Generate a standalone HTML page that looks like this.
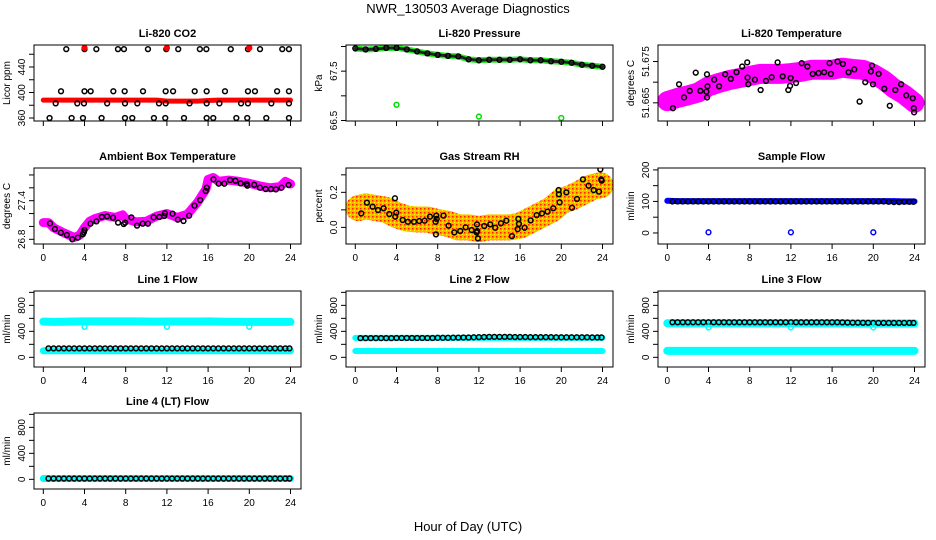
<!DOCTYPE html>
<html><head><meta charset="utf-8"><style>
body{margin:0;background:#fff;}
svg{display:block;font-family:"Liberation Sans",sans-serif;}
</style></head><body>
<svg id="chart" width="936" height="540" viewBox="0 0 936 540">
<defs>
<pattern id="rhpat" width="4" height="4" patternUnits="userSpaceOnUse"><rect width="4" height="4" fill="#ffb400"/><rect width="1.5" height="1.5" fill="#ff2000"/><rect x="2" y="2" width="1" height="1" fill="#ffff00"/></pattern>
</defs>
<text x="468" y="13" text-anchor="middle" font-size="13">NWR_130503  Average Diagnostics</text>
<text x="468" y="531" text-anchor="middle" font-size="13">Hour of Day (UTC)</text>
</svg>
<script>
const hoursHourly=[0,1,2,3,4,5,6,7,8,9,10,11,12,13,14,15,16,17,18,19,20,21,22,23,24];
const hoursHalf=[0.5,1,1.5,2,2.5,3,3.5,4,4.5,5,5.5,6,6.5,7,7.5,8,8.5,9,9.5,10,10.5,11,11.5,12,12.5,13,13.5,14,14.5,15,15.5,16,16.5,17,17.5,18,18.5,19,19.5,20,20.5,21,21.5,22,22.5,23,23.5,23.9];
const outlierHours=[4,12,20];
const xTicks=[0,4,8,12,16,20,24];

// CO2
const co2RedVals=[388,388,388,388,388,388,388,388,388,388,388,388,386.5,386.5,386.5,386.5,387.5,388,388,388,388,388,388,388,388];
const co2Hours=[2.23,4.0,5.15,7.25,7.83,10.16,11.94,13.1,15.2,15.83,18.2,19.87,21.04,23.2,23.85,1.72,4.0,4.6,6.8,7.9,9.68,11.88,12.6,14.7,15.86,17.64,19.87,20.55,22.7,23.85,1.2,3.3,3.95,6.2,7.93,9.13,11.23,11.88,14.2,15.86,17.1,19.2,19.87,22.14,23.85,0.61,2.75,3.85,5.66,7.93,8.64,10.74,11.84,13.66,15.86,16.5,18.74,19.8,21.65,23.85];
const co2Vals=[468,468,468,468,468,468,468,468,468,468,468,468,468,468,468,402,402,402,402,402,402,402,402,402,402,402,402,402,402,402,383,383,383,383,383,383,383,383,383,383,383,383,383,383,383,360,360,360,360,360,360,360,360,360,360,360,360,360,360,360];
const co2RedOutVals=[470,470,470];

// Pressure
const presGreen=[67.96,67.94,67.95,67.97,67.97,67.94,67.9,67.86,67.83,67.81,67.8,67.74,67.72,67.73,67.73,67.73,67.74,67.72,67.72,67.7,67.69,67.67,67.63,67.61,67.59];
const presOutVals=[66.82,66.58,66.55];

// Li-820 temperature
const ltBand=[51.6654,51.6662,51.6668,51.6675,51.669,51.6698,51.6705,51.671,51.6715,51.672,51.672,51.672,51.6722,51.6725,51.673,51.673,51.673,51.6735,51.6732,51.673,51.672,51.6705,51.6685,51.667,51.665];
const ltHours=[0.55,1.14,1.62,2.18,2.76,3.21,3.8,3.86,3.9,3.85,4.55,5.03,5.62,6.17,6.72,7.27,7.76,7.79,7.86,8.51,9.06,9.58,10.13,10.71,11.2,11.75,11.92,11.98,12.5,13.05,13.6,14.12,14.68,15.23,15.75,15.88,16.53,17.05,17.6,18.15,18.67,19.22,19.77,19.87,19.97,20.52,21.07,21.6,22.14,22.7,23.2,23.83,23.93,23.96];
const ltVals=[51.6637,51.6695,51.6663,51.6679,51.6723,51.6679,51.6677,51.6663,51.669,51.6719,51.6706,51.669,51.6719,51.6708,51.6724,51.6738,51.6748,51.6711,51.6695,51.6706,51.6681,51.6703,51.6712,51.6748,51.6714,51.6681,51.6691,51.671,51.6698,51.6746,51.6738,51.672,51.6722,51.6724,51.6746,51.672,51.675,51.6744,51.6724,51.6731,51.6653,51.67,51.6726,51.674,51.6695,51.672,51.6684,51.6643,51.6681,51.6695,51.6668,51.6661,51.6637,51.6627];

// Ambient
const ambBandHours=[0,0.5,1,2,3,3.5,4,4.5,5,6,7,7.7,8,9,10,11,12,13,14,15,15.8,16,16.5,17,18,19,20,21,22,23,23.5,24];
const ambBandVals=[27.06,27.06,26.98,26.9,26.83,26.86,26.98,27.08,27.12,27.17,27.14,27.18,27.12,27.07,27.08,27.16,27.2,27.14,27.19,27.38,27.58,27.73,27.76,27.7,27.72,27.7,27.67,27.63,27.6,27.62,27.7,27.66];
const ambHours=[0.65,1.13,1.71,2.29,2.81,3.35,3.84,3.94,3.99,4.58,5.16,5.68,6.19,6.77,7.26,7.81,7.95,8.55,9.1,9.65,10.16,10.71,11.26,11.74,11.81,12.55,13.06,13.61,14.16,14.68,15.23,15.77,15.87,16.52,17.03,17.58,18.13,18.65,19.16,19.74,19.81,20.48,21.03,21.58,22.1,22.58,23.13,23.81];
const ambVals=[27.048,26.96,26.903,26.867,26.8,26.826,26.878,26.909,26.945,27.043,27.079,27.147,27.157,27.136,27.059,27.038,27.059,27.141,27.012,27.043,27.043,27.141,27.147,27.162,27.204,27.198,27.105,27.085,27.167,27.323,27.41,27.55,27.602,27.731,27.664,27.664,27.721,27.71,27.669,27.659,27.633,27.648,27.602,27.581,27.581,27.576,27.602,27.643];

// RH
const rhBandHours=[0.3,1,2,3,4,5,6,7,8,9,10,11,12,13,14,15,16,17,18,19,20,21,22,23,23.8];
const rhBand=[0.11,0.12,0.11,0.1,0.07,0.05,0.045,0.045,0.03,0.02,0.0,0.0,-0.01,0.0,0.0,0.0,0.01,0.04,0.07,0.1,0.15,0.17,0.2,0.23,0.24];
const rhHours=[0.58,1.13,1.68,2.2,2.75,3.3,3.85,3.88,3.98,4.6,5.11,5.7,6.21,6.73,7.25,7.8,7.83,7.86,7.9,8.57,9.06,9.61,10.19,10.71,11.3,11.78,11.81,11.84,11.9,12.52,13.1,13.59,14.14,14.66,15.21,15.83,15.89,15.76,16.44,17.02,17.61,18.12,18.67,19.22,19.74,19.77,19.84,20.49,21.04,21.52,22.1,22.65,23.14,23.66,23.79,23.88,23.92];
const rhVals=[0.08,0.141,0.118,0.099,0.109,0.076,0.166,0.061,0.084,0.042,0.032,0.032,0.036,0.038,0.061,0.032,-0.04,0.067,0.048,0.067,0.01,-0.029,-0.021,0.0,-0.015,-0.029,0.017,-0.021,-0.063,0.008,0.017,-0.002,0.023,0.038,-0.05,0.048,0.019,-0.01,-0.002,0.04,0.07,0.08,0.09,0.109,0.213,0.189,0.143,0.2,0.112,0.162,0.274,0.238,0.213,0.204,0.331,0.274,0.267];

// Sample flow
const sfBlue=[102,101,101,101,101,101,101,101,101,101,101,101,101,101,101,101,101,101,101,101,101,101,101,100,100];
const sfBlack=[100,100,100,100,100,100,100,100,100,100,100,100,100,100,100,100,100,100,100,100,100,100,100,100,100,100,100,100,100,100,100,100,100,100,100,100,100,100,100,100,100,100,99,98,98,99,99,99];
const sfOut=[2,2,2];

// Line flows
const l1CyanTop=[550,545,548,552,553,553,553,553,553,553,552,550,552,552,552,552,553,550,548,548,545,545,545,545,545];
const l1CyanBot=[101,101,101,101,101,101,101,101,101,101,101,101,101,101,101,101,101,101,101,101,101,101,101,101,101];
const l1Black=[138,138,138,138,138,138,138,138,138,138,138,138,138,138,138,138,138,138,138,138,138,138,138,138,138,138,138,138,138,138,138,138,138,138,138,138,138,138,138,138,138,138,138,138,138,138,138,138];
const l1Out=[470,470,470];
const l2Cyan=[300,300,300,300,300,300,300,300,300,300,300,300,300,300,300,300,300,300,300,300,300,300,300,300,300];
const l2CyanBot=[98,98,98,98,98,98,98,98,98,98,98,98,98,98,98,98,98,98,98,98,98,98,98,98,98];
const l2Black=[295,295,295,296,296,296,296,297,297,297,297,297,298,298,298,300,300,300,302,303,305,305,308,310,312,315,315,315,315,315,312,312,312,310,310,310,310,310,308,308,308,308,308,308,308,306,306,306];
const l3CyanTop=[525,525,525,525,525,525,525,525,525,525,525,525,525,525,525,525,525,525,520,520,520,520,520,520,520];
const l3CyanBot=[100,100,100,100,100,100,100,100,100,100,100,100,100,100,100,100,100,100,100,100,100,100,100,100,100];
const l3Black=[540,540,540,540,540,540,540,540,540,540,540,540,540,540,540,540,540,540,540,540,540,540,540,540,540,540,540,540,540,540,540,540,540,538,536,534,534,532,532,530,530,530,530,530,530,530,530,530];
const l3Out=[460,460,460];
const l4Cyan=[12,12,12,12,12,12,12,12,12,12,12,12,12,12,12,12,12,12,12,12,12,12,12,12,12];
const l4Black=[12,12,12,12,12,12,12,12,12,12,12,12,12,12,12,12,12,12,12,12,12,12,12,12,12,12,12,12,12,12,12,12,12,12,12,12,12,12,12,12,12,12,12,12,12,12,12,12];

const NS='http://www.w3.org/2000/svg';
const svg=document.getElementById('chart');
const colLeft=[34,346,658], rowTop=[45,168,291,413], PW=267, PH=76;
let clipId=0;

function panel(c,r,ymin,ymax,title,ylab,ticks,labels,showXLabels,name){
  const L=colLeft[c],T=rowTop[r];
  const g=document.createElementNS(NS,'g');
  
  
  svg.appendChild(g);
  const X=h=>L+9.3+h*10.3;
  const Y=v=>T+PH-(v-ymin)/(ymax-ymin)*PH;
  const cp=document.createElementNS(NS,'clipPath');
  cp.id='cp'+(clipId++);
  const cr=document.createElementNS(NS,'rect');
  cr.setAttribute('x',L);cr.setAttribute('y',T);cr.setAttribute('width',PW);cr.setAttribute('height',PH);
  cp.appendChild(cr);svg.appendChild(cp);
  const plot=document.createElementNS(NS,'g');
  plot.setAttribute('clip-path','url(#'+cp.id+')');
  
  
  g.appendChild(plot);
  const box=document.createElementNS(NS,'rect');
  box.setAttribute('x',L);box.setAttribute('y',T);box.setAttribute('width',PW);box.setAttribute('height',PH);
  box.setAttribute('fill','none');box.setAttribute('stroke','#000');
  
  
  g.appendChild(box);
  const t=document.createElementNS(NS,'text');
  t.setAttribute('x',L+PW/2);t.setAttribute('y',T-8);t.setAttribute('text-anchor','middle');
  t.setAttribute('font-size','11');t.setAttribute('font-weight','bold');
  t.textContent=title;
  
  
  g.appendChild(t);
  const yl=document.createElementNS(NS,'text');
  yl.setAttribute('transform','translate('+(L-24)+','+(T+PH/2)+') rotate(-90)');
  yl.setAttribute('text-anchor','middle');yl.setAttribute('font-size','10');
  yl.textContent=ylab;
  
  
  g.appendChild(yl);
  ticks.forEach(v=>{
    const y=Y(v); if(y<T-1||y>T+PH+1)return;
    const ln=document.createElementNS(NS,'line');
    ln.setAttribute('x1',L-5);ln.setAttribute('x2',L);ln.setAttribute('y1',y);ln.setAttribute('y2',y);ln.setAttribute('stroke','#000');
    
    
    g.appendChild(ln);
  });
  labels.forEach(v=>{
    const y=Y(v);
    const tx=document.createElementNS(NS,'text');
    tx.setAttribute('transform','translate('+(L-9)+','+y+') rotate(-90)');
    tx.setAttribute('text-anchor','middle');tx.setAttribute('font-size','10');
    tx.textContent=String(v);
    
    
    g.appendChild(tx);
  });
  xTicks.forEach(h=>{
    const x=X(h);
    const ln=document.createElementNS(NS,'line');
    ln.setAttribute('x1',x);ln.setAttribute('x2',x);ln.setAttribute('y1',T+PH);ln.setAttribute('y2',T+PH+5);ln.setAttribute('stroke','#000');
    
    
    g.appendChild(ln);
    if(showXLabels){
      const tx=document.createElementNS(NS,'text');
      tx.setAttribute('x',x);tx.setAttribute('y',T+PH+17);tx.setAttribute('text-anchor','middle');tx.setAttribute('font-size','10');
      tx.textContent=String(h);
      
      
      g.appendChild(tx);
    }
  });
  return {X,Y,plot};
}
function band(p,hs,vs,color,w,nm){
  const pl=document.createElementNS(NS,'polyline');
  pl.setAttribute('points',hs.map((h,i)=>p.X(h)+','+p.Y(vs[i])).join(' '));
  pl.setAttribute('fill','none');pl.setAttribute('stroke',color);pl.setAttribute('stroke-width',w);
  pl.setAttribute('stroke-linejoin','round');pl.setAttribute('stroke-linecap','round');
  
  
  p.plot.appendChild(pl);
}
function pts(p,hs,vs,color,nm,fill){
  hs.forEach((h,i)=>{
    const c=document.createElementNS(NS,'circle');
    c.setAttribute('cx',p.X(h));c.setAttribute('cy',p.Y(vs[i]));c.setAttribute('r',2.4);
    c.setAttribute('fill',fill||'none');c.setAttribute('stroke',color);c.setAttribute('stroke-width',1.5);
    
    
    p.plot.appendChild(c);
  });
}

let p;
p=panel(0,0,355.3,474.5,'Li-820 CO2','Licor ppm',[360,380,400,420,440,460],[360,400,440],false,'co2-panel');
band(p,hoursHourly,co2RedVals,'#ff0000',5,'co2-red-series');
pts(p,co2Hours,co2Vals,'#000','co2-point');
pts(p,outlierHours,co2RedOutVals,'#ff0000','co2-red-point','#ff0000');

p=panel(1,0,66.49,68.03,'Li-820 Pressure','kPa',[66.5,67,67.5,68],[66.5,67.5],false,'pressure-panel');
band(p,hoursHourly,presGreen,'#22ee22',6,'pressure-green-series');
band(p,hoursHourly,presGreen,'#222',3,'pressure-black-series');
pts(p,hoursHourly,presGreen,'#000','pressure-point');
pts(p,outlierHours,presOutVals,'#00dd00','pressure-outlier');

p=panel(2,0,51.6606,51.679,'Li-820 Temperature','degrees C',[51.665,51.67,51.675],[51.665,51.675],false,'li820-temp-panel');
band(p,hoursHourly,ltBand,'#ff00ff',20,'li820-temp-magenta-series');
pts(p,ltHours,ltVals,'#000','li820-temp-point');

p=panel(0,1,26.727,27.908,'Ambient Box Temperature','degrees C',[26.8,27,27.2,27.4,27.6,27.8],[26.8,27.4],true,'ambient-temp-panel');
band(p,ambBandHours,ambBandVals,'#ff00ff',9,'ambient-magenta-series');
pts(p,ambHours,ambVals,'#000','ambient-point');

p=panel(1,1,-0.095,0.339,'Gas Stream RH','percent',[0,0.1,0.2,0.3],['0.0','0.2'],true,'gas-rh-panel');
band(p,rhBandHours,rhBand,'url(#rhpat)',26,'rh-orange-series');
pts(p,rhHours,rhVals,'#000','rh-point');

p=panel(2,1,-35,206,'Sample Flow','ml/min',[0,50,100,150,200],[0,100,200],true,'sample-flow-panel');
band(p,hoursHourly,sfBlue,'#0000ff',6,'sample-flow-blue-series');
pts(p,hoursHalf,sfBlack,'#000','sample-flow-point');
pts(p,outlierHours,sfOut,'#0000ff','sample-flow-outlier');

const flowTicks=[0,200,400,600,800,1000], flowLabels=[0,400,800];
p=panel(0,2,-149,1021,'Line 1 Flow','ml/min',flowTicks,flowLabels,true,'line1-flow-panel');
band(p,hoursHourly,l1CyanTop,'#00ffff',8,'line1-cyan-top');
band(p,hoursHourly,l1CyanBot,'#00ffff',7,'line1-cyan-bottom');
pts(p,hoursHalf,l1Black,'#000','line1-point');
pts(p,outlierHours,l1Out,'#00ffff','line1-outlier');

p=panel(1,2,-149,1021,'Line 2 Flow','ml/min',flowTicks,flowLabels,true,'line2-flow-panel');
band(p,hoursHourly,l2Cyan,'#00ffff',6,'line2-cyan-top');
band(p,hoursHourly,l2CyanBot,'#00ffff',6,'line2-cyan-bottom');
pts(p,hoursHalf,l2Black,'#000','line2-point');

p=panel(2,2,-149,1021,'Line 3 Flow','ml/min',flowTicks,flowLabels,true,'line3-flow-panel');
band(p,hoursHourly,l3CyanTop,'#00ffff',8,'line3-cyan-top');
band(p,hoursHourly,l3CyanBot,'#00ffff',8,'line3-cyan-bottom');
pts(p,hoursHalf,l3Black,'#000','line3-point');
pts(p,outlierHours,l3Out,'#00ffff','line3-outlier');

p=panel(0,3,-149,1021,'Line 4 (LT) Flow','ml/min',flowTicks,flowLabels,true,'line4-flow-panel');
band(p,hoursHourly,l4Cyan,'#00ffff',7,'line4-cyan-series');
pts(p,hoursHalf,l4Black,'#000','line4-point');
</script>
</body></html>
